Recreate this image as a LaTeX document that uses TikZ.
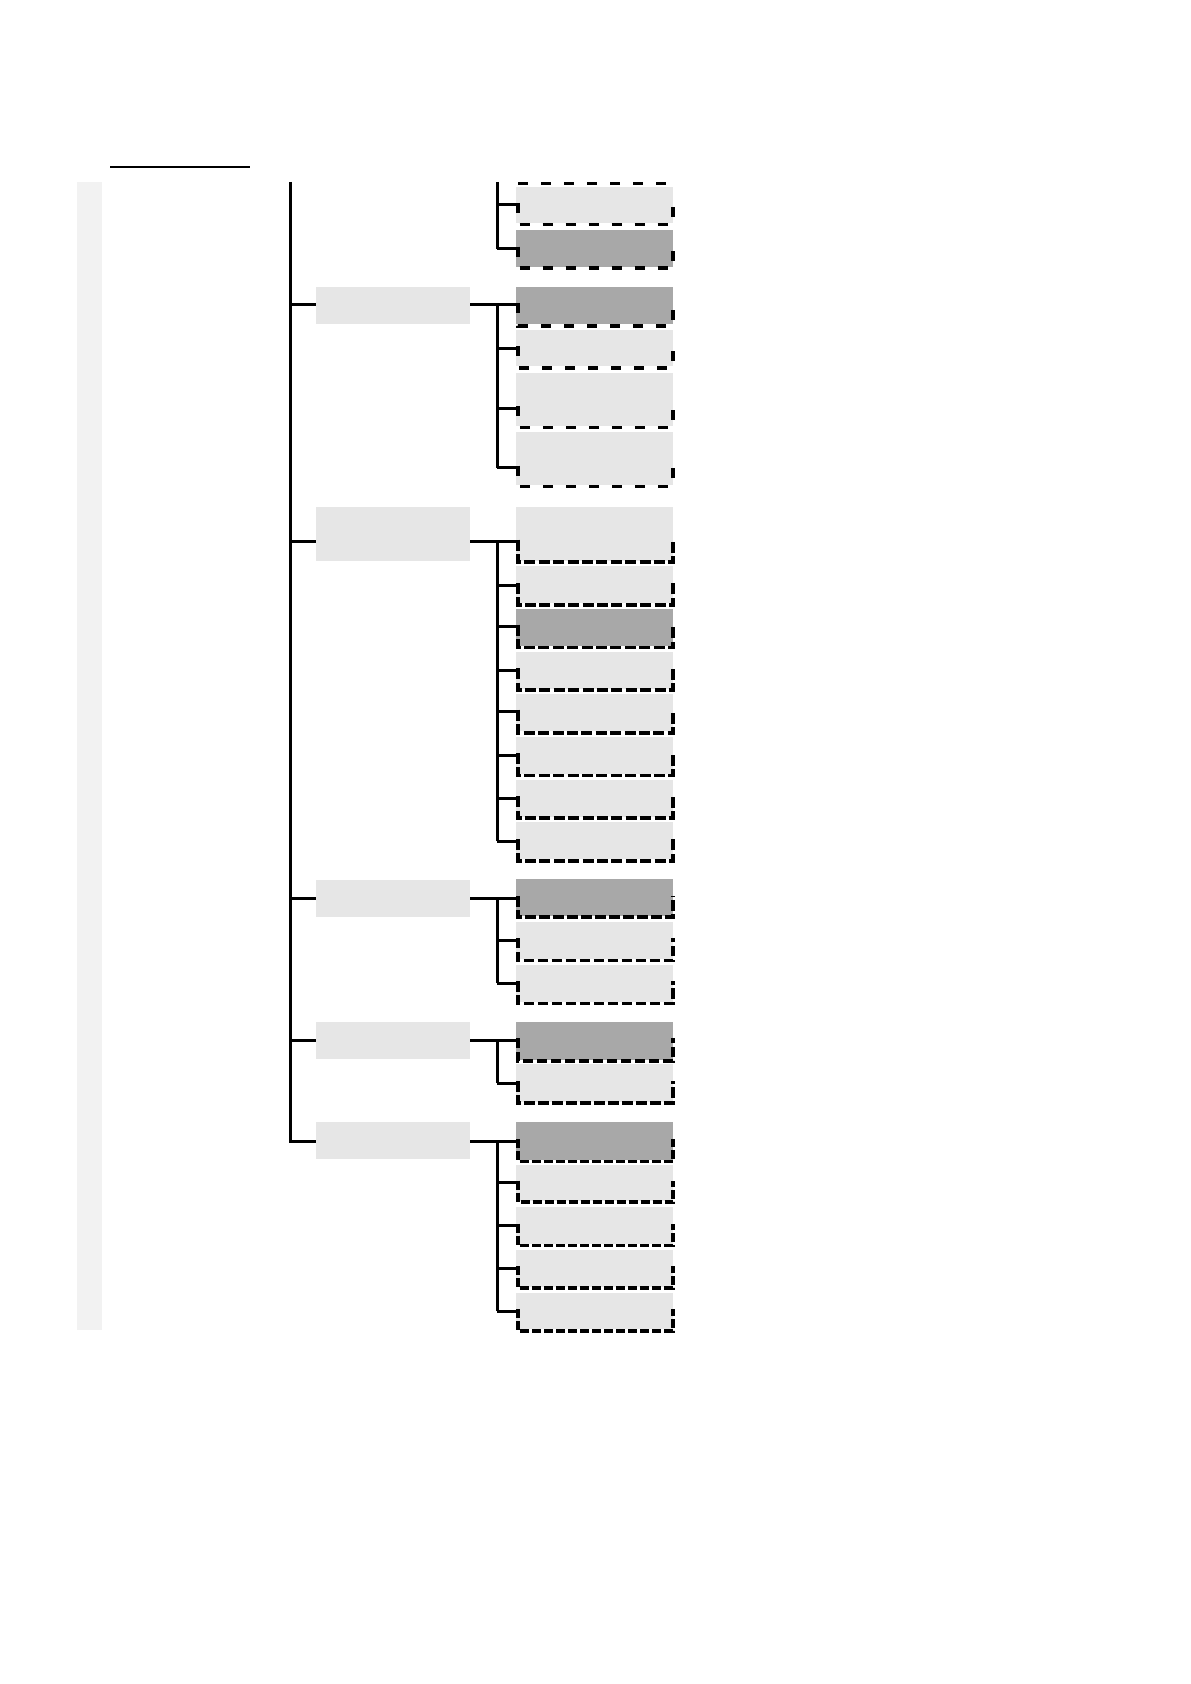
\documentclass[tikz,border=0pt]{standalone}
\definecolor{lightfill}{HTML}{E6E6E6}
\definecolor{darkfill}{HTML}{A8A8A8}
\definecolor{stripfill}{HTML}{F2F2F2}
\tikzset{
  conn/.style={line width=1.5pt},
  bord/.style={line width=1.8pt},
  grpbox/.style={fill=lightfill, inner sep=0pt, outer sep=0pt, minimum width=77pt},
  leaflight/.style={fill=lightfill, inner sep=0pt, outer sep=0pt, minimum width=78.5pt},
  leafdark/.style={fill=darkfill, inner sep=0pt, outer sep=0pt, minimum width=78.5pt},
  dashA/.style={dash pattern=on 5pt off 6.5pt},
  dashB/.style={dash pattern=on 5.5pt off 1.7pt},
  dashC/.style={dash pattern=on 5.2pt off 1.8pt},
  dashE/.style={dash pattern=on 4.5pt off 1.5pt},
}
% #1 name, #2 top, #3 fill bottom, #4 connector y, #5 style
\newcommand\leafnode[5]{%
  \node[#5, minimum height={(#3-#2)*0.5pt}] (#1) at (594.5,{(#2+#3)/2}) {};
  \coordinate (#1-c) at (518,#4);
  \coordinate (#1-cl) at (518,{#4-2});
  \coordinate (#1-bl) at (518,{#3+1.5});
  \coordinate (#1-br) at (673,{#3+1.5});
  \coordinate (#1-cr) at (673,{#4-2});
}
% #1 name, #2 dash style
\newcommand\leafborder[2]{%
  \draw[bord,#2] (#1-cl) -- (#1-bl) -- (#1-br) -- (#1-cr);
}
\begin{document}
\begin{tikzpicture}[x=0.5pt,y=-0.5pt]
\useasboundingbox (0,0) rectangle (1190,1684);

% left strip and top rule
\fill[stripfill] (77,182) rectangle (102,1330);
\draw[line width=0.7pt] (110,167) -- (250,167);

% group boxes
\node[grpbox, minimum height=18.65pt] (gA) at (393,305.35) {};
\node[grpbox, minimum height=27pt]    (gB) at (393,533.7) {};
\node[grpbox, minimum height=18.35pt] (gC) at (393,898.35) {};
\node[grpbox, minimum height=18.35pt] (gD) at (393,1040.65) {};
\node[grpbox, minimum height=18.5pt]  (gE) at (393,1140.5) {};

% leaves
\leafnode{T1}{186.7}{223}{205}{leaflight}
\leafnode{T2}{230}{266.7}{248.7}{leafdark}

\leafnode{A1}{286.7}{324.5}{305}{leafdark}
\leafnode{A2}{330}{366.5}{348.3}{leaflight}
\leafnode{A3}{372.7}{426}{408.3}{leaflight}
\leafnode{A4}{431.7}{485}{467.7}{leaflight}

\leafnode{B1}{506.7}{560.7}{541.7}{leaflight}
\leafnode{B2}{566}{603.3}{585}{leaflight}
\leafnode{B3}{608.7}{646}{626.7}{leafdark}
\leafnode{B4}{652}{688.7}{670.3}{leaflight}
\leafnode{B5}{694}{731.3}{711.7}{leaflight}
\leafnode{B6}{736.7}{774}{755}{leaflight}
\leafnode{B7}{780}{816.7}{798.3}{leaflight}
\leafnode{B8}{822}{859.3}{841}{leaflight}

\leafnode{C1}{879}{915.5}{898.3}{leafdark}
\leafnode{C2}{921.7}{959}{940}{leaflight}
\leafnode{C3}{965}{1002}{983.3}{leaflight}

\leafnode{D1}{1022.3}{1059.5}{1040}{leafdark}
\leafnode{D2}{1064.3}{1101.5}{1083.3}{leaflight}

\leafnode{E1}{1122}{1160}{1141}{leafdark}
\leafnode{E2}{1165}{1200.7}{1182.7}{leaflight}
\leafnode{E3}{1207.3}{1244}{1225.7}{leaflight}
\leafnode{E4}{1250}{1286.7}{1268.3}{leaflight}
\leafnode{E5}{1292.7}{1329.3}{1311}{leaflight}

% dashed borders
\coordinate (rem-l) at (518,183.5);
\coordinate (rem-r) at (673,183.5);
\draw[bord,dashA] (rem-l) -- (rem-r);
\foreach \n in {T1,T2,A1,A2,A3,A4} {\leafborder{\n}{dashA}}
\foreach \n in {B1,B2,B3,B4,B5,B6,B7,B8} {\leafborder{\n}{dashB}}
\foreach \n in {C1,C2,C3,D1,D2} {\leafborder{\n}{dashC}}
\foreach \n in {E1,E2,E3,E4,E5} {\leafborder{\n}{dashE}}

% trunk
\coordinate (trunk) at (290,182);
\coordinate (bus) at (497,182);
\draw[conn] (trunk) -- (trunk |- E1-c) -- (gE.west |- E1-c);
\foreach \g/\l in {A/A1,B/B1,C/C1,D/D1} {
  \draw[conn] (trunk |- \l-c) -- (g\g.west |- \l-c);
}
\foreach \g/\l in {A/A1,B/B1,C/C1,D/D1,E/E1} {
  \draw[conn] (g\g.east |- \l-c) -- (\l-c);
}

% sub-buses
\draw[conn] (bus) -- (bus |- T2-c);
\foreach \l in {T1,T2} {\draw[conn] (bus |- \l-c) -- (\l-c);}

\draw[conn] (bus |- A1-c) -- (bus |- A4-c);
\foreach \l in {A2,A3,A4} {\draw[conn] (bus |- \l-c) -- (\l-c);}

\draw[conn] (bus |- B1-c) -- (bus |- B8-c);
\foreach \l in {B2,B3,B4,B5,B6,B7,B8} {\draw[conn] (bus |- \l-c) -- (\l-c);}

\draw[conn] (bus |- C1-c) -- (bus |- C3-c);
\foreach \l in {C2,C3} {\draw[conn] (bus |- \l-c) -- (\l-c);}

\draw[conn] (bus |- D1-c) -- (bus |- D2-c);
\draw[conn] (bus |- D2-c) -- (D2-c);

\draw[conn] (bus |- E1-c) -- (bus |- E5-c);
\foreach \l in {E2,E3,E4,E5} {\draw[conn] (bus |- \l-c) -- (\l-c);}
\end{tikzpicture}
\end{document}
